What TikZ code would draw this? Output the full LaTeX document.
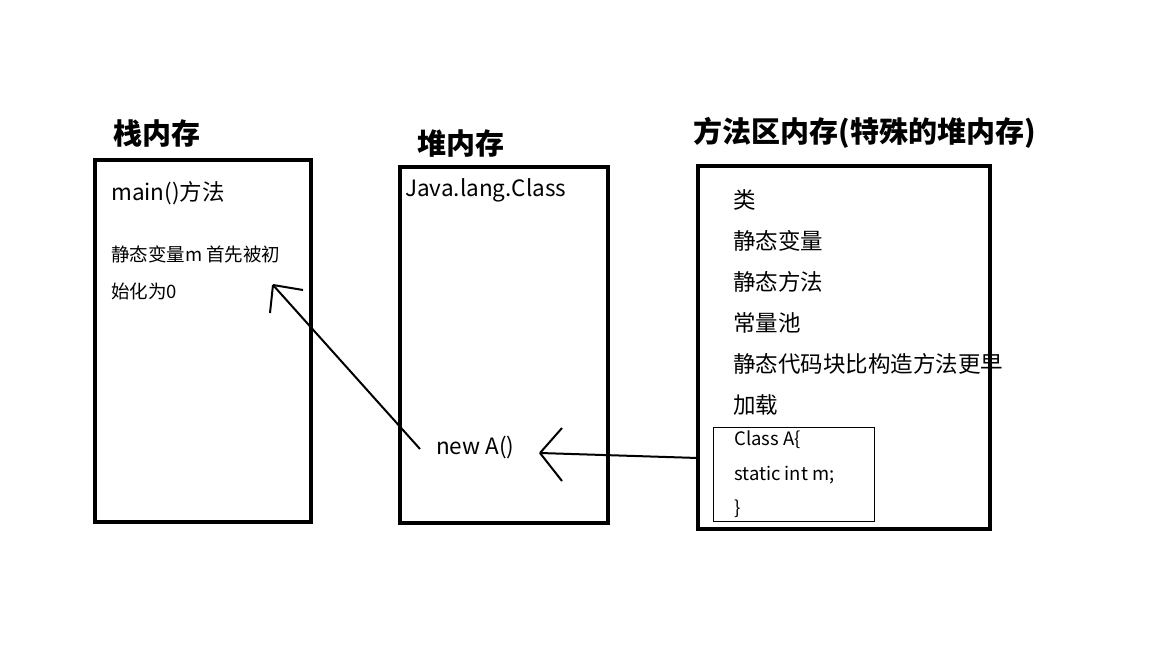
\documentclass[tikz,border=0pt]{standalone}
\usepackage{fontspec}
\setmainfont{Noto Sans CJK SC}
\begin{document}
\begin{tikzpicture}[x=1pt,y=-1pt,
  mem/.style={draw,line width=4pt},
  ttl/.style={anchor=west,font=\fontsize{29}{32}\selectfont\bfseries},
  txt/.style={anchor=west,font=\fontsize{22.5}{25}\selectfont,inner sep=0},
  sml/.style={anchor=west,font=\fontsize{18.5}{21}\selectfont,inner sep=0},
  ln/.style={line width=2pt}]
\useasboundingbox (0,0) rectangle (1152,648);
\draw[mem] (95,160) rectangle (311,522);
\draw[mem] (400,167) rectangle (608,523);
\draw[mem] (698,166) rectangle (990,529);
\draw[line width=1pt] (713,427) rectangle (874,521);
\node[ttl] (t1) at (110,133) {栈内存};
\node[ttl] (t2) at (414,143) {堆内存};
\node[ttl] (t3) at (690,133) {方法区内存(特殊的堆内存)};
\node[txt] (s1) at (111,193) {main()方法};
\node[sml] (s2) at (111,254) {静态变量m 首先被初};
\node[sml] (s3) at (111,291) {始化为0};
\node[txt] (h1) at (405,190) {Java.lang.Class};
\node[txt] (h2) at (436,447) {new A()};
\foreach \t [count=\i] in {类,静态变量,静态方法,常量池,静态代码块比构造方法更早,加载}
  \node[txt] (m\i) at (733,{159+41*\i}) {\t};
\node[sml] (c1) at (734,440) {Class A\{};
\node[sml] (c2) at (734,475) {static int m;};
\node[sml] (c3) at (734,509) {\}};
\coordinate (a1) at (420,449); \coordinate (a2) at (273,285);
\draw[ln] (a1) -- (a2);
\draw[ln] (a2) -- (270,313); \draw[ln] (a2) -- (303,290);
\coordinate (b1) at (698,458); \coordinate (b2) at (540,453);
\draw[ln] (b1) -- (b2);
\draw[ln] (b2) -- (562,428); \draw[ln] (b2) -- (562,481);
\end{tikzpicture}
\end{document}
